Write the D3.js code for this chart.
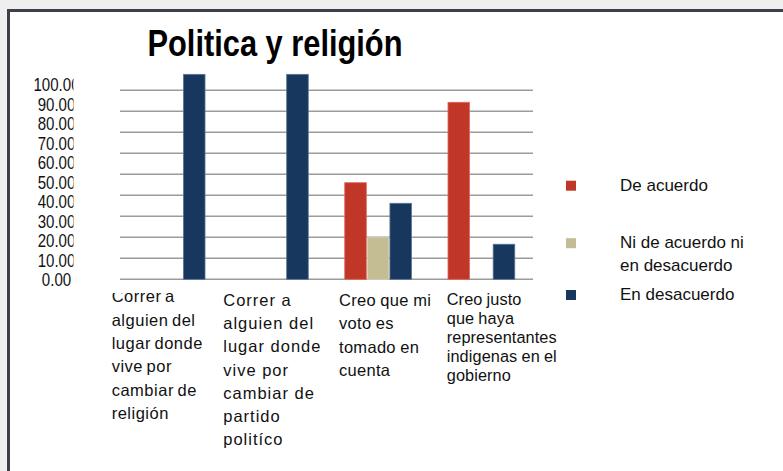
<!DOCTYPE html>
<html>
<head>
<meta charset="utf-8">
<script src="https://cdn.jsdelivr.net/npm/d3@7"></script>
<style>
  html, body { margin: 0; padding: 0; background: #efefef; }
  svg { display: block; font-family: "Liberation Sans", Arial, sans-serif; }
</style>
</head>
<body>
<svg id="chart" width="783" height="471"></svg>
<script>
// ---- data ----
const title = "Politica y religión";
const categories = [
  "Correr a alguien del lugar donde vive por cambiar de religión",
  "Correr a alguien del lugar donde vive por cambiar de partido politíco",
  "Creo que mi voto es tomado en cuenta",
  "Creo justo que haya representantes indigenas en el gobierno"
];
const categoryLines = [
  ["Correr a", "alguien del", "lugar donde", "vive por", "cambiar de", "religión"],
  ["Correr a", "alguien del", "lugar donde", "vive por", "cambiar de", "partido", "politíco"],
  ["Creo que mi", "voto es", "tomado en", "cuenta"],
  ["Creo justo", "que haya", "representantes", "indigenas en el", "gobierno"]
];
const seriesNames = ["De acuerdo", "Ni de acuerdo ni en desacuerdo", "En desacuerdo"];
const legendLines = [["De acuerdo"], ["Ni de acuerdo ni", "en desacuerdo"], ["En desacuerdo"]];
const deAcuerdo    = [0, 0, 46, 84.3];
const niNi         = [0, 0, 19.8, 0];
const enDesacuerdo = [97.6, 97.6, 36.2, 16.7];
const gridValues = [0, 10, 20, 30, 40, 50, 60, 70, 80, 90];
const tickValues = [0, 10, 20, 30, 40, 50, 60, 70, 80, 90, 100];
const tickLabels = ["0.00", "10.00", "20.00", "30.00", "40.00", "50.00", "60.00", "70.00", "80.00", "90.00", "100.00"];

// ---- styles / layout ----
const colors = ["#c13727", "#c4bc93", "#17375e"];
const edge = ["#e06a5c", "#dcd6b8", "#5d7697"];
const seriesValues = [deAcuerdo, niNi, enDesacuerdo];

const svg = d3.select("#chart");

// frame
svg.append("rect").attr("x", 7).attr("y", 9).attr("width", 783).attr("height", 471)
  .attr("fill", "#3c4048");
svg.append("rect").attr("x", 10).attr("y", 12).attr("width", 783).attr("height", 471)
  .attr("fill", "#ffffff");

// title
svg.append("text").attr("x", 275).attr("y", 56)
  .attr("text-anchor", "middle")
  .attr("font-size", 36).attr("font-weight", "bold")
  .attr("textLength", 255).attr("lengthAdjust", "spacingAndGlyphs")
  .attr("fill", "#000").text(title);

// scales
const x0 = d3.scaleBand().domain(d3.range(categories.length)).range([120, 533]).padding(0);
const x1 = d3.scaleBand().domain(d3.range(seriesNames.length)).range([0, x0.bandwidth()])
  .paddingInner(0).paddingOuter(0.785);
const y = d3.scaleLinear().domain([0, 100]).range([279.3, 69.3]);
const yLabel = d3.scaleLinear().domain([0, 100]).range([280, 85]);

// gridlines
svg.append("g").selectAll("line").data(gridValues).join("line")
  .attr("x1", x0.range()[0]).attr("x2", x0.range()[1])
  .attr("y1", d => y(d)).attr("y2", d => y(d))
  .attr("stroke", "#9c9c9c").attr("stroke-width", 1.6);

// y tick labels (clipped like the reference)
const defs = svg.append("defs");
defs.append("clipPath").attr("id", "yclip").append("rect")
  .attr("x", 0).attr("y", 60).attr("width", 73.5).attr("height", 240);
const yAxis = d3.axisLeft(yLabel).tickValues(tickValues)
  .tickFormat((d, i) => tickLabels[i]).tickSize(0).tickPadding(0);
const yg = svg.append("g").attr("clip-path", "url(#yclip)").append("g")
  .attr("transform", "translate(56.5,0)").call(yAxis);
yg.select(".domain").remove();
yg.selectAll("text")
  .attr("text-anchor", "middle")
  .attr("font-family", "'Liberation Sans', Arial, sans-serif")
  .attr("font-size", 17.5).attr("fill", "#111")
  .attr("transform", "scale(0.86,1)");

// bars
const groups = svg.append("g").selectAll("g").data(categories).join("g")
  .attr("transform", (d, i) => `translate(${x0(i)},0)`);
groups.selectAll("rect")
  .data((d, i) => seriesValues.map((vals, s) => ({ s, v: vals[i] })).filter(e => e.v > 0))
  .join("rect")
  .attr("x", d => x1(d.s) + 0.5)
  .attr("width", x1.bandwidth() - 1)
  .attr("y", d => y(d.v))
  .attr("height", d => y(0) - y(d.v))
  .attr("fill", d => colors[d.s])
  .attr("stroke", d => edge[d.s]).attr("stroke-width", 0.8);

// category labels
defs.append("clipPath").attr("id", "xclip").append("rect")
  .attr("x", 0).attr("y", 293).attr("width", 783).attr("height", 180);
const labelDx = [-8.3, 0, 12.5, 17];
const labelY0 = [302.3, 306, 306, 304.5];
const labelLH = [23.3, 23.2, 23.3, 19];
const labelLS = [0.5, 1, 0.3, 0.1];
const labelWS = [-1.5, 0, -0.5, -0.5];
const labelFS = [16.5, 16.5, 16.5, 16.3];
const xl = svg.append("g").attr("clip-path", "url(#xclip)");
categoryLines.forEach((lines, i) => {
  const t = xl.append("text")
    .attr("x", x0(i) + labelDx[i])
    .attr("y", labelY0[i])
    .attr("font-size", labelFS[i])
    .attr("letter-spacing", labelLS[i])
    .attr("word-spacing", labelWS[i])
    .attr("fill", "#111");
  lines.forEach((ln, k) => {
    t.append("tspan").attr("x", x0(i) + labelDx[i])
      .attr("y", labelY0[i] + k * labelLH[i]).text(ln);
  });
});

// legend
const legendY = [185.7, 243.2, 295];
const lg = svg.append("g");
seriesNames.forEach((name, s) => {
  lg.append("rect").attr("x", 566).attr("y", legendY[s] - 5)
    .attr("width", 10).attr("height", 10).attr("fill", colors[s]);
  const t = lg.append("text").attr("font-size", 17).attr("fill", "#111");
  legendLines[s].forEach((ln, k) => {
    t.append("tspan").attr("x", 620).attr("y", legendY[s] + 4.8 + k * 22.7).text(ln);
  });
});
</script>
</body>
</html>
